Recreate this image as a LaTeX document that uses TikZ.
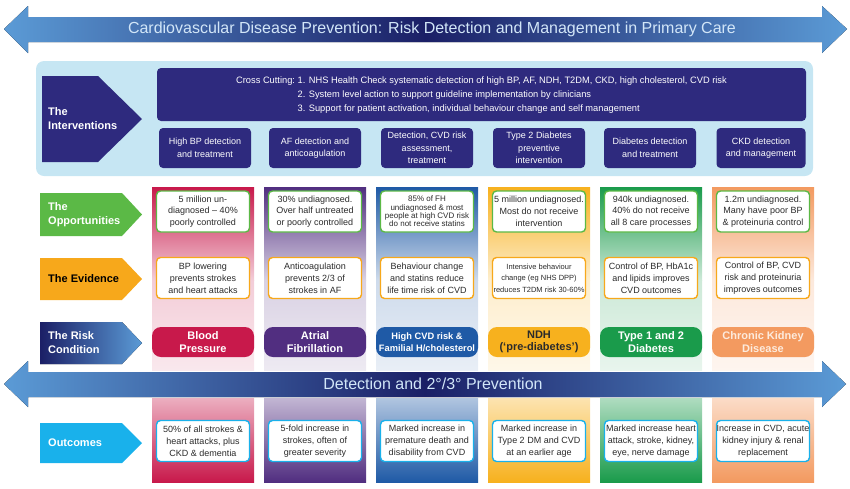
\documentclass[tikz,border=0pt]{standalone}
\usepackage{fontspec}
\setmainfont{Liberation Sans}
\usetikzlibrary{positioning}

\definecolor{navyint}{HTML}{2E2A7E}
\definecolor{panelblue}{HTML}{C6E6F3}
\definecolor{steelblue}{HTML}{5B9BD6}
\definecolor{deepnavy}{HTML}{1B1F66}
\definecolor{paleblue}{HTML}{D2E6F8}
\definecolor{bpred}{HTML}{C8194B}
\definecolor{afpurple}{HTML}{512E80}
\definecolor{cvdblue}{HTML}{1F5AA6}
\definecolor{ndhyellow}{HTML}{F7B11E}
\definecolor{dmgreen}{HTML}{1A9B4B}
\definecolor{ckdorange}{HTML}{F39A60}
\definecolor{oppgreen}{HTML}{5BB946}
\definecolor{evorange}{HTML}{F7A81B}
\definecolor{outcyan}{HTML}{19B1EB}
\definecolor{boxtext}{HTML}{2B2B2B}
\definecolor{ckdtext}{HTML}{FDEBDD}

\begin{document}
\begin{tikzpicture}[
      x=1pt, y=-1pt,
      bigarrow/.style={left color=steelblue, right color=steelblue, middle color=deepnavy},
      banner/.style={text=paleblue, font=\fontsize{16}{19}\selectfont},
      rowtag/.style={
          anchor=west, align=left, text=white, inner sep=0pt,
          font=\fontsize{11}{14}\selectfont\bfseries,
        },
      intbox/.style={
          rectangle, rounded corners=4pt,
          align=center, fill=navyint, text=white,
          minimum height=40pt, minimum width=92pt, inner sep=0pt,
          font=\fontsize{9}{12.5}\selectfont,
        },
      infobox/.style={
          rectangle, rounded corners=4pt,
          align=center, fill=white, text=boxtext, line width=1.4pt,
          minimum height=41pt, minimum width=93pt, inner sep=0pt,
          font=\fontsize{9}{11.8}\selectfont,
        },
      opp/.style={infobox, draw=oppgreen},
      evid/.style={infobox, draw=evorange},
      outc/.style={infobox, draw=outcyan},
      smalltxt/.style={font=\fontsize{8}{8.4}\selectfont},
      pill/.style={
          rectangle, rounded corners=9pt,
          align=center, text=white,
          minimum height=30pt, minimum width=102pt, inner sep=0pt,
          font=\fontsize{11}{12.5}\selectfont\bfseries,
        },
    ]
    \useasboundingbox (0,0) rectangle (850,488);

    \foreach \c/\x in {bpred/203, afpurple/315, cvdblue/427, ndhyellow/539, dmgreen/651, ckdorange/763} {
        \fill[top color=\c, bottom color=\c!22] (\x-51,187) rectangle (\x+51,280);
        \fill[top color=\c!22, bottom color=\c!10] (\x-51,280) rectangle (\x+51,370);
        \fill[top color=\c!35, bottom color=\c] (\x-51,398) rectangle (\x+51,482);
      }

    \fill[bigarrow] (4,29) -- (28,6) -- (28,17) -- (822,17) -- (822,6) -- (847,29)
    -- (822,53) -- (822,42) -- (28,42) -- (28,53) -- cycle;
    \node[banner] (title) at (432,29) {Cardiovascular Disease Prevention: Risk Detection and Management in Primary Care};

    \fill[panelblue, rounded corners=8pt] (36,61) rectangle (813,176);
    \fill[navyint] (42,76) -- (98,76) -- (142,119) -- (98,162) -- (42,162) -- cycle;
    \node[rowtag] (tagint) at (48,119) {The\\Interventions};

    \node[intbox, minimum width=649pt, minimum height=53pt, font=\fontsize{9.3}{14}\selectfont] (cross) at (481.5,94.5)
    {\begin{tabular}{@{}r@{\ }l@{}}
        Cross Cutting: & 1. NHS Health Check systematic detection of high BP, AF, NDH, T2DM, CKD, high cholesterol, CVD risk \\
                       & 2. System level action to support guideline implementation by clinicians                           \\
                       & 3. Support for patient activation, individual behaviour change and self management
      \end{tabular}};

    \node[intbox] (int1) at (205,148) {High BP detection\\and treatment};
    \node[intbox] (int2) at (315,148) {AF detection and\\anticoagulation};
    \node[intbox] (int3) at (427,148) {Detection, CVD risk\\assessment,\\treatment};
    \node[intbox] (int4) at (539,148) {Type 2 Diabetes\\preventive\\intervention};
    \node[intbox] (int5) at (650,148) {Diabetes detection\\and treatment};
    \node[intbox, minimum width=89pt] (int6) at (761,148) {CKD detection\\and management};

    \fill[oppgreen] (40,193) -- (122,193) -- (142,214.5) -- (122,236) -- (40,236) -- cycle;
    \node[rowtag] (tagopp) at (48,214.5) {The\\Opportunities};
    \fill[evorange] (40,258) -- (122,258) -- (142,279) -- (122,300) -- (40,300) -- cycle;
    \node[rowtag, text=black] (tagev) at (48,279) {The Evidence};
    \fill[left color=deepnavy, right color=steelblue] (40,322) -- (122,322) -- (142,343) -- (122,364) -- (40,364) -- cycle;
    \node[rowtag] (tagrisk) at (48,343) {The Risk\\Condition};
    \fill[outcyan] (40,423) -- (122,423) -- (142,443) -- (122,463) -- (40,463) -- cycle;
    \node[rowtag] (tagout) at (48,443) {Outcomes};

    \node[opp] (opp1) at (203,211.5) {5 million un-\\diagnosed -- 40\%\\poorly controlled};
    \node[opp] (opp2) at (315,211.5) {30\% undiagnosed.\\Over half untreated\\or poorly controlled};
    \node[opp, smalltxt] (opp3) at (427,211.5) {85\% of FH\\undiagnosed \& most\\people at high CVD risk\\do not receive statins};
    \node[opp] (opp4) at (539,211.5) {5 million undiagnosed.\\Most do not receive\\intervention};
    \node[opp] (opp5) at (651,211.5) {940k undiagnosed.\\40\% do not receive\\all 8 care processes};
    \node[opp] (opp6) at (763,211.5) {1.2m undiagnosed.\\Many have poor BP\\\& proteinuria control};

    \node[evid] (ev1) at (203,278) {BP lowering\\prevents strokes\\and heart attacks};
    \node[evid] (ev2) at (315,278) {Anticoagulation\\prevents 2/3 of\\strokes in AF};
    \node[evid] (ev3) at (427,278) {Behaviour change\\and statins reduce\\life time risk of CVD};
    \node[evid, font=\fontsize{7.5}{11.5}\selectfont] (ev4) at (539,278) {Intensive behaviour\\change (eg NHS DPP)\\reduces T2DM risk 30-60\%};
    \node[evid] (ev5) at (651,278) {Control of BP, HbA1c\\and lipids improves\\CVD outcomes};
    \node[evid] (ev6) at (763,278) {Control of BP, CVD\\risk and proteinuria\\improves outcomes};

    \node[pill, fill=bpred] (risk1) at (203,342) {Blood\\Pressure};
    \node[pill, fill=afpurple] (risk2) at (315,342) {Atrial\\Fibrillation};
    \node[pill, fill=cvdblue, font=\fontsize{9.3}{12}\selectfont\bfseries] (risk3) at (427,342) {High CVD risk \&\\Familial H/cholesterol};
    \node[pill, fill=ndhyellow, text=boxtext] (risk4) at (539,342) {NDH\\(`pre-diabetes')};
    \node[pill, fill=dmgreen] (risk5) at (651,342) {Type 1 and 2\\Diabetes};
    \node[pill, fill=ckdorange, text=ckdtext] (risk6) at (763,342) {Chronic Kidney\\Disease};

    \fill[bigarrow] (4,384) -- (28,361) -- (28,372) -- (822,372) -- (822,361) -- (846,384)
    -- (822,407) -- (822,397) -- (28,397) -- (28,407) -- cycle;
    \node[banner] (prevention) at (433,384) {Detection and 2°/3° Prevention};

    \node[outc] (out1) at (203,441) {50\% of all strokes \&\\heart attacks, plus\\CKD \& dementia};
    \node[outc] (out2) at (315,441) {5-fold increase in\\strokes, often of\\greater severity};
    \node[outc] (out3) at (427,441) {Marked increase in\\premature death and\\disability from CVD};
    \node[outc] (out4) at (539,441) {Marked increase in\\Type 2 DM and CVD\\at an earlier age};
    \node[outc] (out5) at (651,441) {Marked increase heart\\attack, stroke, kidney,\\eye, nerve damage};
    \node[outc] (out6) at (763,441) {Increase in CVD, acute\\kidney injury \& renal\\replacement};
  \end{tikzpicture}
\end{document}
